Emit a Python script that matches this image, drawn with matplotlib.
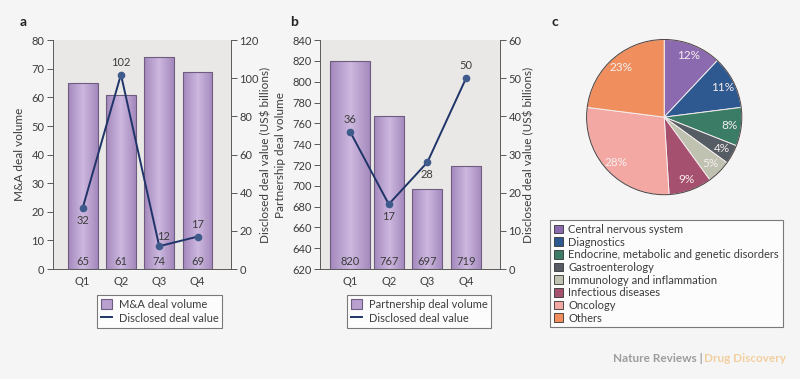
import numpy as np
import matplotlib
matplotlib.use('Agg')
import matplotlib.pyplot as plt
from matplotlib.patches import Patch, Circle
from matplotlib.lines import Line2D
from matplotlib.colors import LinearSegmentedColormap

plt.rcParams['font.family'] = ['Lato', 'DejaVu Sans']

quarters = ['Q1', 'Q2', 'Q3', 'Q4']
ma_volume = [65, 61, 74, 69]
ma_value = [32, 102, 12, 17]
partner_volume = [820, 767, 697, 719]
partner_value = [36, 17, 28, 50]

areas = ['Central nervous system', 'Diagnostics',
         'Endocrine, metabolic and genetic disorders', 'Gastroenterology',
         'Immunology and inflammation', 'Infectious diseases', 'Oncology', 'Others']
shares = [12, 11, 8, 4, 5, 9, 28, 23]
pie_colors = ['#8c6aaf', '#2d5890', '#3a7c66', '#565c64',
              '#bfc1b1', '#a6506f', '#f3a8a3', '#f08f5d']

bg = '#f6f5f5'
plot_bg = '#eae8e6'
txt = '#3c3c3c'
spine_c = '#5a5a5a'
bar_edge = '#6e5d80'
line_c = '#1f3468'
marker_c = '#3f5b8c'

bar_cmap = LinearSegmentedColormap.from_list('bar', ['#a489bd', '#cdb8df', '#a489bd'])

fig = plt.figure(figsize=(8, 3.79), dpi=100, facecolor=bg)


def draw_panel(rect, vol, val, vlim, vticks, rlim, rticks, ylabel, legend_label,
               val_offsets, leg_xy, widths, label_x):
    ax = fig.add_axes(rect)
    ax.set_facecolor(plot_bg)
    x = np.arange(len(quarters))
    bars = ax.bar(x, np.array(vol) - vlim[0], bottom=vlim[0], width=widths,
                  facecolor='none', edgecolor=bar_edge, linewidth=0.8, zorder=3)
    # horizontal shading inside each bar
    grad = np.linspace(0, 1, 50).reshape(1, -1)
    for b in bars:
        im = ax.imshow(grad, cmap=bar_cmap, aspect='auto', zorder=2,
                       extent=[b.get_x(), b.get_x() + b.get_width(),
                               b.get_y(), b.get_y() + b.get_height()])
        im.set_clip_path(b)
    ax.set_xlim(-0.78, 3.88)
    ax.set_ylim(*vlim)
    ax.set_yticks(vticks)
    ax.set_xticks(x)
    ax.set_xticklabels(quarters)
    ax.tick_params(axis='x', length=0, pad=5, labelsize=8, colors=txt)
    ax.tick_params(axis='y', length=4, width=0.7, pad=2, labelsize=8, colors=txt, color=spine_c)
    ax.set_ylabel(ylabel, fontsize=8.5, color=txt)
    ax.yaxis.set_label_coords(label_x[0], 0.5)
    for s in ['top', 'right']:
        ax.spines[s].set_visible(False)
    for s in ['left', 'bottom']:
        ax.spines[s].set_color(spine_c)
        ax.spines[s].set_linewidth(0.7)
    for xi, v in zip(x, vol):
        ax.text(xi, 0.032, str(v), transform=ax.get_xaxis_transform(),
                ha='center', va='center', fontsize=8, color=txt, zorder=5)

    ax2 = ax.twinx()
    ax2.plot(x, val, color=line_c, linewidth=1.4, marker='o', markersize=4.5,
             markerfacecolor=marker_c, markeredgecolor=marker_c, zorder=4)
    ax2.set_ylim(*rlim)
    ax2.set_yticks(rticks)
    ax2.tick_params(axis='y', length=4, width=0.7, pad=2, labelsize=8, colors=txt, color=spine_c)
    ax2.set_ylabel('Disclosed deal value (US$ billions)', fontsize=8.5, color=txt)
    ax2.yaxis.set_label_coords(label_x[1], 0.5)
    for s in ['top', 'left', 'bottom']:
        ax2.spines[s].set_visible(False)
    ax2.spines['right'].set_color(spine_c)
    ax2.spines['right'].set_linewidth(0.7)
    for xi, v, off in zip(x, val, val_offsets):
        ax2.annotate(str(v), (xi, v), xytext=off, textcoords='offset points',
                     ha='center', va='center', fontsize=8, color=txt, zorder=6)

    handles = [Patch(facecolor='#b9a0cf', edgecolor=bar_edge, linewidth=0.8),
               Line2D([], [], color=line_c, linewidth=1.4)]
    leg = fig.legend(handles, [legend_label, 'Disclosed deal value'],
                     loc='upper left', bbox_to_anchor=leg_xy, fontsize=8,
                     frameon=True, fancybox=False, edgecolor=spine_c,
                     handlelength=1.0, handleheight=0.9, handletextpad=0.6,
                     borderpad=0.35, labelspacing=0.25, borderaxespad=0)
    leg.get_frame().set_facecolor('white')
    leg.get_frame().set_linewidth(0.8)
    for t in leg.get_texts():
        t.set_color(txt)
    return ax


draw_panel([0.066, 0.29, 0.223, 0.604], ma_volume, ma_value, (0, 80),
           range(0, 81, 10), (0, 120), range(0, 121, 20), 'M&A deal volume',
           'M&A deal volume', [(0, -9), (0, 9), (3, 7), (0, 9)],
           (97 / 800, 1 - 295 / 379), [0.78, 0.78, 0.78, 0.78], (-0.157, 1.16))

draw_panel([0.4, 0.29, 0.225, 0.604], partner_volume, partner_value, (620, 840),
           range(620, 841, 20), (0, 60), range(0, 61, 10), 'Partnership deal volume',
           'Partnership deal volume', [(0, 9), (0, -9), (0, -9), (0, 9)],
           (347 / 800, 1 - 295 / 379), [1.05, 0.78, 0.78, 0.78], (-0.19, 1.13))

# pie
axp = fig.add_axes([0.709, 0.435, 0.2425, 0.512])
wedges, _, autotexts = axp.pie(shares, colors=pie_colors, startangle=90,
                               counterclock=False, autopct='%d%%', pctdistance=0.85,
                               wedgeprops=dict(edgecolor='#f4eeee', linewidth=0.7))
for t in autotexts:
    t.set_color('#f7eeee')
    t.set_fontsize(8.5)
axp.add_patch(Circle((0, 0), 1.0, facecolor='none', edgecolor='#4a4040', linewidth=0.7))
axp.set_aspect('equal')

pie_handles = [Patch(facecolor=c, edgecolor='#333333', linewidth=0.6) for c in pie_colors]
leg = fig.legend(pie_handles, areas, loc='upper left',
                 bbox_to_anchor=(550 / 800, 1 - 220 / 379), fontsize=8,
                 frameon=True, fancybox=False, edgecolor=spine_c,
                 handlelength=0.8, handleheight=0.8, handletextpad=0.5,
                 borderpad=0.35, labelspacing=0.15, borderaxespad=0)
leg.get_frame().set_facecolor('white')
leg.get_frame().set_linewidth(0.8)
for t in leg.get_texts():
    t.set_color(txt)

# panel letters
for lab, xp in [('a', 20), ('b', 290), ('c', 551)]:
    fig.text(xp / 800, 1 - 22 / 379, lab, fontsize=10, fontweight='bold', color='#222222',
             va='center')

fig.text(703 / 800, 1 - 359 / 379, 'Nature Reviews |', ha='right', va='center',
         fontsize=8.5, fontweight='bold', color='#9c9c9c')
fig.text(786 / 800, 1 - 359 / 379, 'Drug Discovery', ha='right', va='center',
         fontsize=8.5, fontweight='bold', color='#f2cf9f')

fig.savefig('out.png', dpi=100, facecolor=bg)
